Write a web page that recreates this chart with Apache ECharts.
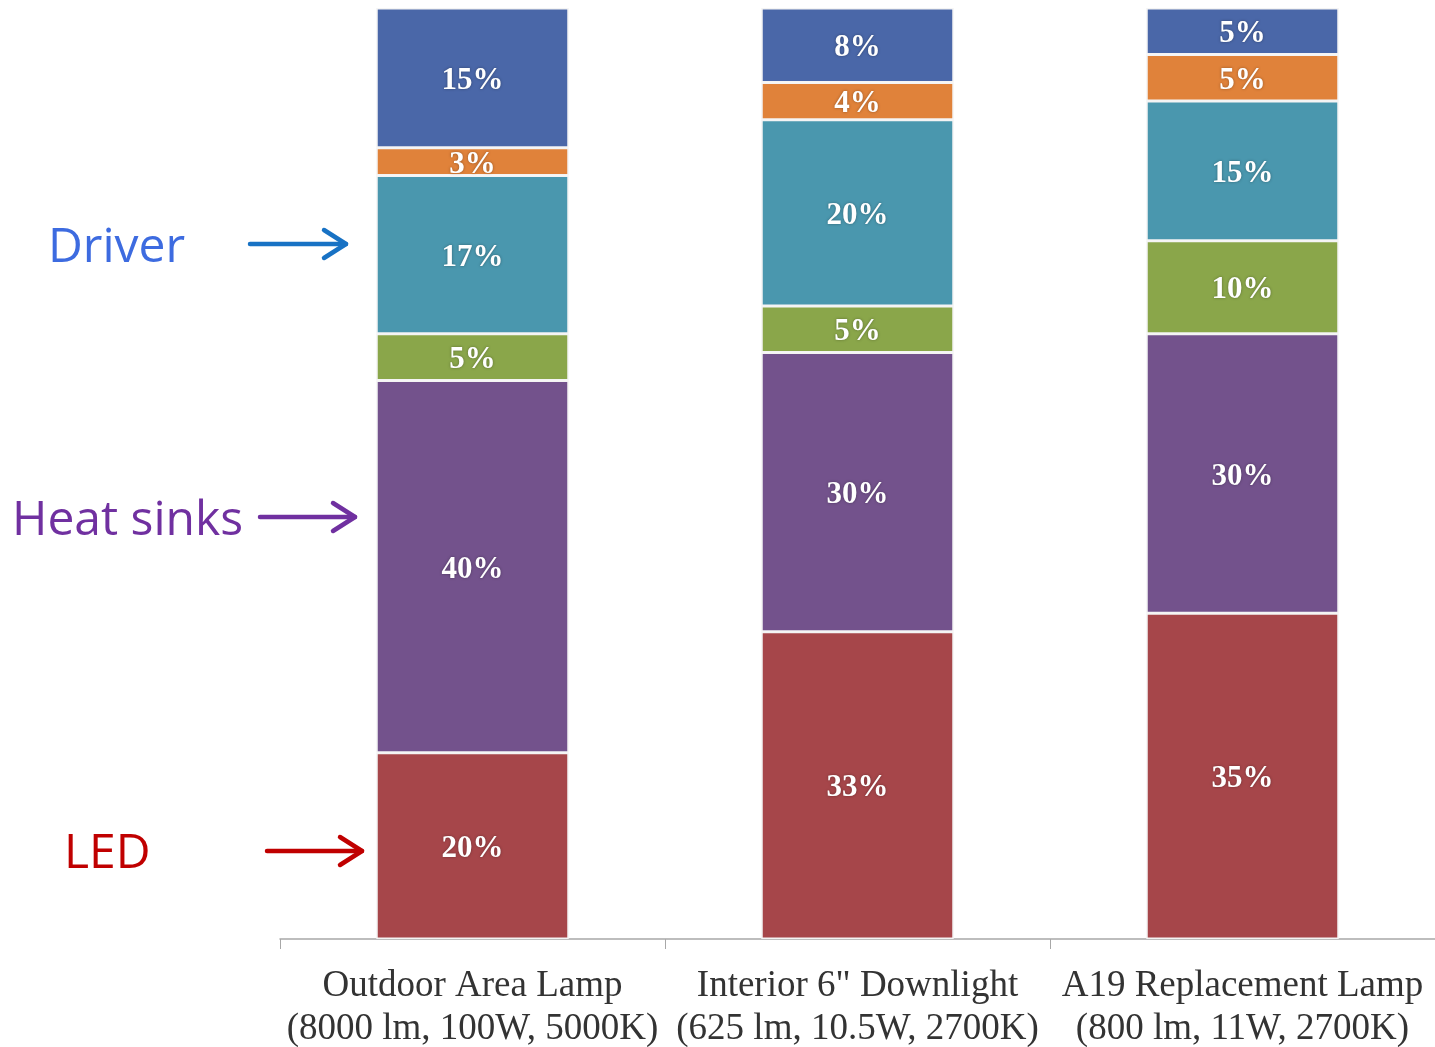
<!DOCTYPE html>
<html>
<head>
<meta charset="utf-8">
<script src="https://cdn.jsdelivr.net/npm/echarts@6/dist/echarts.min.js"></script>
<style>
html,body{margin:0;padding:0;background:#fff;}
#chart{width:1435px;height:1047px;}
</style>
</head>
<body>
<div id="chart"></div>
<script>
const categories = [
  'Outdoor Area Lamp\n(8000 lm, 100W, 5000K)',
  'Interior 6" Downlight\n(625 lm, 10.5W, 2700K)',
  'A19 Replacement Lamp\n(800 lm, 11W, 2700K)'
];
const seriesNames = ['LED', 'Heat sinks', 'Other 1', 'Driver', 'Other 2', 'Other 3'];
const led       = [20, 33, 35];
const heatSinks = [40, 30, 30];
const greenPart = [5, 5, 10];
const driver    = [17, 20, 15];
const orangePart= [3, 4, 5];
const bluePart  = [15, 8, 5];
const colors = ['#A6464A', '#73528C', '#8AA64A', '#4A97AE', '#E0823A', '#4A67A8'];

const values = [led, heatSinks, greenPart, driver, orangePart, bluePart];

const chart = echarts.init(document.getElementById('chart'));

function arrow(x1, x2, y, color) {
  return [
    { type: 'line', shape: { x1: x1, y1: y, x2: x2, y2: y },
      style: { stroke: color, lineWidth: 4.5, lineCap: 'round' } },
    { type: 'polyline', shape: { points: [[x2 - 22, y - 14], [x2, y], [x2 - 22, y + 14]] },
      style: { stroke: color, lineWidth: 4.5, lineCap: 'round', lineJoin: 'round', fill: null } }
  ];
}

const annFont = '"Open Sans", "Noto Sans", sans-serif';

chart.setOption({
  animation: false,
  grid: { left: 280, right: 0, top: 8, bottom: 108, outerBoundsMode: 'none', containLabel: false },
  xAxis: {
    type: 'category',
    data: categories,
    axisLine: { lineStyle: { color: '#a8a8a8', width: 1.5 } },
    axisTick: { show: true, length: 10, alignWithLabel: false, lineStyle: { color: '#a8a8a8' } },
    axisLabel: {
      fontFamily: '"Liberation Serif", "Times New Roman", serif',
      fontSize: 37,
      lineHeight: 43,
      color: '#333',
      margin: 26,
      interval: 0
    }
  },
  yAxis: {
    type: 'value', min: 0, max: 100, show: false,
    splitLine: { show: false }
  },
  series: values.map((v, i) => ({
    name: seriesNames[i],
    type: 'bar',
    stack: 'total',
    data: v,
    barWidth: '50%',
    itemStyle: { color: colors[i], borderColor: '#f4f4f4', borderWidth: 1.5 },
    label: {
      show: true,
      position: 'inside',
      offset: [0, 3],
      formatter: '{c}%',
      fontFamily: '"Liberation Serif", "Times New Roman", serif',
      fontWeight: 'bold',
      fontSize: 31,
      color: '#fff',
      textShadowColor: 'rgba(0,0,0,0.35)',
      textShadowBlur: 3
    }
  })),
  graphic: [
    { type: 'text', left: 48, top: 224, style: { text: 'Driver', font: '48px ' + annFont, fill: '#3D6BE0' } },
    { type: 'text', left: 12, top: 497, style: { text: 'Heat sinks', font: '48px ' + annFont, fill: '#7030A0' } },
    { type: 'text', left: 64, top: 830, style: { text: 'LED', font: '48px ' + annFont, fill: '#C00000' } }
  ].concat(arrow(250, 346, 244, '#1872C4'))
   .concat(arrow(260, 355, 517, '#7030A0'))
   .concat(arrow(267, 362, 851, '#C00000'))
});
</script>
</body>
</html>
